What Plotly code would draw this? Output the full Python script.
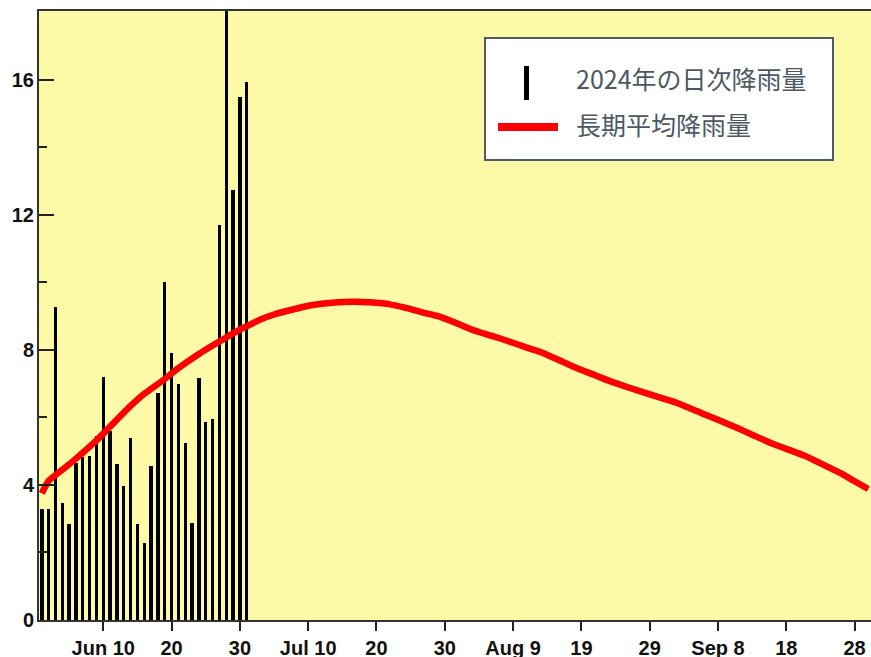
import plotly.graph_objects as go

# ---- data ----
bar_dates = [
    "2024-06-01", "2024-06-02", "2024-06-03", "2024-06-04", "2024-06-05", "2024-06-06",
    "2024-06-07", "2024-06-08", "2024-06-09", "2024-06-10", "2024-06-11", "2024-06-12",
    "2024-06-13", "2024-06-14", "2024-06-15", "2024-06-16", "2024-06-17", "2024-06-18",
    "2024-06-19", "2024-06-20", "2024-06-21", "2024-06-22", "2024-06-23", "2024-06-24",
    "2024-06-25", "2024-06-26", "2024-06-27", "2024-06-28", "2024-06-29", "2024-06-30",
    "2024-07-01",
]
daily_rain = [
    3.28, 3.28, 9.28, 3.48, 2.83, 4.66, 4.82, 4.86, 5.45, 7.21, 5.60, 4.61,
    3.97, 5.39, 2.83, 2.29, 4.56, 6.72, 10.02, 7.90, 6.98, 5.25, 2.88, 7.16,
    5.88, 5.95, 11.70, 18.10, 12.74, 15.50, 15.95,
]

avg_dates = [
    "2024-06-01", "2024-06-02", "2024-06-04", "2024-06-06", "2024-06-09", "2024-06-11",
    "2024-06-14", "2024-06-16", "2024-06-19", "2024-06-21", "2024-06-24", "2024-06-26",
    "2024-06-28", "2024-06-30", "2024-07-01", "2024-07-03", "2024-07-05", "2024-07-07",
    "2024-07-10", "2024-07-12", "2024-07-15", "2024-07-17", "2024-07-19", "2024-07-22",
    "2024-07-24", "2024-07-27", "2024-07-29", "2024-08-01", "2024-08-03", "2024-08-06",
    "2024-08-08", "2024-08-11", "2024-08-13", "2024-08-16", "2024-08-18", "2024-08-21",
    "2024-08-23", "2024-08-26", "2024-08-28", "2024-08-31", "2024-09-02", "2024-09-05",
    "2024-09-07", "2024-09-08", "2024-09-11", "2024-09-13", "2024-09-16", "2024-09-18",
    "2024-09-21", "2024-09-23", "2024-09-26", "2024-09-28", "2024-09-30",
]
avg_rain = [
    3.75, 4.12, 4.45, 4.78, 5.32, 5.73,
    6.34, 6.70, 7.14, 7.46, 7.88, 8.13,
    8.37, 8.60, 8.70, 8.90, 9.05, 9.16,
    9.31, 9.37, 9.42, 9.43, 9.41, 9.35,
    9.26, 9.10, 9.00, 8.77, 8.60, 8.41,
    8.28, 8.07, 7.94, 7.67, 7.49, 7.25,
    7.09, 6.88, 6.75, 6.56, 6.43, 6.18,
    6.01, 5.93, 5.67, 5.49, 5.22, 5.07,
    4.84, 4.64, 4.34, 4.11, 3.88,
]

tick_vals = [
    "2024-06-10", "2024-06-20", "2024-06-30", "2024-07-10", "2024-07-20", "2024-07-30",
    "2024-08-09", "2024-08-19", "2024-08-29", "2024-09-08", "2024-09-18", "2024-09-28",
]
tick_text = ["Jun 10", "20", "30", "Jul 10", "20", "30", "Aug 9", "19", "29", "Sep 8", "18", "28"]
y_ticks = [0, 4, 8, 12, 16]
y_minor_ticks = [2, 6, 10, 14]

legend_labels = ["2024年の日次降雨量", "長期平均降雨量"]

# ---- geometry (page body margin removed via post_script) ----
W, H = 871, 657
SL, ST, SR, SB = 39, 11, 871, 620          # plot area in screen pixels
ML, MT, MR, MB = SL, ST, W - SR, H - SB
PW, PH = SR - SL, SB - ST


def px(x):
    return (x - SL) / PW


def py(y):
    return (SB - y) / PH


fig = go.Figure()
fig.add_trace(go.Bar(
    x=bar_dates, y=daily_rain, width=0.5 * 86400000,
    marker=dict(color="black", line=dict(width=0)),
    showlegend=False, cliponaxis=False,
))
fig.add_trace(go.Scatter(
    x=avg_dates, y=avg_rain, mode="lines",
    line=dict(color="#ff0000", width=6.5, shape="spline", smoothing=0.6),
    showlegend=False,
))

tickfont = dict(family="Liberation Sans, Arial, sans-serif", size=20, color="#111111", weight="bold")

fig.update_layout(
    width=W, height=H,
    margin=dict(l=ML, r=MR, t=MT, b=MB, pad=0, autoexpand=False),
    paper_bgcolor="white",
    plot_bgcolor="#fcfaa6",
    showlegend=False,
    bargap=0,
    xaxis=dict(
        type="date", automargin=False,
        range=["2024-05-31 14:10", "2024-09-30 09:36"],
        tickmode="array", tickvals=tick_vals, ticktext=tick_text,
        ticks="outside", ticklen=9, tickwidth=2, tickcolor="#222222",
        showline=True, linecolor="#333333", linewidth=2, mirror=True,
        showgrid=False, zeroline=False,
        tickfont=tickfont,
    ),
    yaxis=dict(
        automargin=False,
        range=[0, 18.04],
        tickmode="array", tickvals=y_ticks,
        ticks="inside", ticklen=15, tickwidth=2, tickcolor="#222222",
        minor=dict(tickmode="array", tickvals=y_minor_ticks, ticks="inside", ticklen=8,
                   tickwidth=2, tickcolor="#222222", showgrid=False),
        showline=True, linecolor="#333333", linewidth=2,
        showgrid=False, zeroline=False,
        tickfont=tickfont,
        ticklabelstandoff=-1,
    ),
)

# ---- legend box drawn manually ----
shapes = [
    dict(type="rect", xref="paper", yref="paper",
         x0=px(485), x1=px(833), y0=py(160), y1=py(38),
         fillcolor="white", line=dict(color="#4f5b66", width=2), layer="above"),
    dict(type="line", xref="paper", yref="paper",
         x0=px(526.5), x1=px(526.5), y0=py(100), y1=py(66),
         line=dict(color="black", width=5), layer="above"),
    dict(type="line", xref="paper", yref="paper",
         x0=px(498), x1=px(558), y0=py(127), y1=py(127),
         line=dict(color="#ff0000", width=8), layer="above"),
]
fig.update_layout(shapes=shapes)

legfont = dict(family="Noto Sans CJK JP, sans-serif", size=25, color="#4b5863")
fig.add_annotation(xref="paper", yref="paper", x=px(574), y=py(78), text=legend_labels[0],
                   showarrow=False, xanchor="left", yanchor="middle", font=legfont)
fig.add_annotation(xref="paper", yref="paper", x=px(574), y=py(124), text=legend_labels[1],
                   showarrow=False, xanchor="left", yanchor="middle", font=legfont)

fig.write_html(
    "out.html",
    config={"displayModeBar": False},
    post_script="document.body.style.margin='0';document.body.style.overflow='hidden';",
)
